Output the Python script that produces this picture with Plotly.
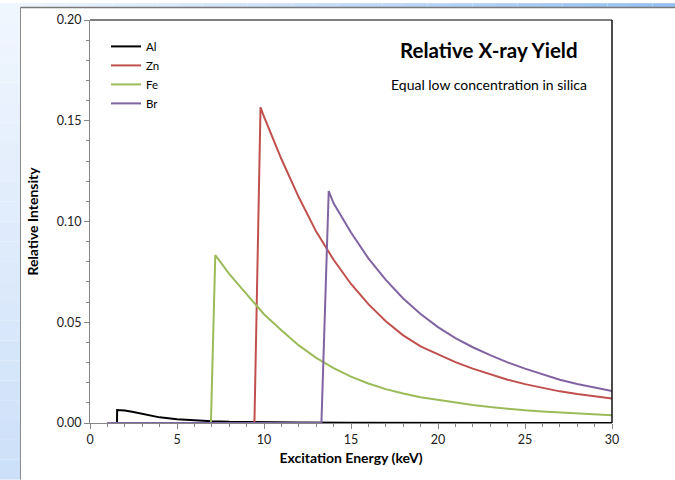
import plotly.graph_objects as go

# ---------------- data ----------------
al_e = [1, 1.55, 1.56, 2, 2.5, 3, 3.5, 4, 5, 6, 7, 8, 10, 12, 15, 20, 25, 30]
al_i = [0, 0, 0.0064, 0.0062, 0.0055, 0.0045, 0.0036, 0.0028, 0.0019, 0.0013,
        0.0009, 0.0006, 0.0003, 0.0002, 0.0001, 0.00005, 0.00002, 0.0]

zn_e = [1, 9.45, 9.8, 10, 11, 12, 13, 14, 15, 16, 17, 18, 19, 20,
        21, 22, 23, 24, 25, 26, 27, 28, 29, 30]
zn_i = [0, 0, 0.1567, 0.152, 0.131, 0.112, 0.095, 0.081, 0.069, 0.059, 0.0505,
        0.0435, 0.038, 0.034, 0.0302, 0.027, 0.0241, 0.0215, 0.0193, 0.0174,
        0.0157, 0.0144, 0.0132, 0.0122]

fe_e = [1, 6.95, 7.2, 8, 9, 10, 11, 12, 13, 14, 15, 16, 17, 18, 19, 20,
        21, 22, 23, 24, 25, 26, 27, 28, 29, 30]
fe_i = [0, 0, 0.0833, 0.074, 0.064, 0.054, 0.046, 0.0385, 0.0323, 0.0272, 0.023,
        0.0196, 0.0168, 0.0146, 0.0128, 0.0114, 0.0101, 0.0089, 0.0079,
        0.0070, 0.0063, 0.0057, 0.0052, 0.0047, 0.0043, 0.0039]

br_e = [1, 13.3, 13.72, 14, 15, 16, 17, 18, 19, 20, 21, 22, 23, 24, 25,
        26, 27, 28, 29, 30]
br_i = [0, 0, 0.1151, 0.109, 0.0945, 0.0817, 0.071, 0.0618, 0.0541, 0.0476, 0.0421,
        0.0376, 0.0337, 0.0301, 0.027, 0.0241, 0.0215, 0.0194, 0.0175, 0.0159]

series = [
    ("Al", al_e, al_i, "#000000"),
    ("Zn", zn_e, zn_i, "#c0504d"),
    ("Fe", fe_e, fe_i, "#9bbb59"),
    ("Br", br_e, br_i, "#8064a2"),
]

x_ticks = [0, 5, 10, 15, 20, 25, 30]
y_ticks = [0.00, 0.05, 0.10, 0.15, 0.20]

FONT = "Lato, Carlito, 'Liberation Sans', sans-serif"

fig = go.Figure()
for name, xe, yi, col in series:
    fig.add_trace(go.Scatter(x=xe, y=yi, name=name, mode="lines",
                             line=dict(color=col, width=2)))

# ---------------- geometry helpers (pixel -> paper) ----------------
W, H = 675, 480
L, R, T, B = 90, 63, 17, 57
pw, ph = W - L - R, H - T - B


def px(x):
    return (x - L) / pw


def py(y):
    return (H - B - y) / ph


def mix(c1, c2, t):
    return "rgb({},{},{})".format(*[round(a + (b - a) * t) for a, b in zip(c1, c2)])


shapes = []
# left strip gradient (top -> bottom)
n = 24
for k in range(n):
    y0 = k * H / n
    y1 = (k + 1) * H / n
    shapes.append(dict(type="rect", xref="paper", yref="paper", layer="below",
                       x0=px(0), x1=px(21), y0=py(y1), y1=py(y0),
                       line=dict(width=0),
                       fillcolor=mix((240, 246, 254), (205, 224, 249), k / (n - 1))))
# top strip gradient (left -> right)
m = 30
for k in range(m):
    x0 = k * W / m
    x1 = (k + 1) * W / m
    shapes.append(dict(type="rect", xref="paper", yref="paper", layer="below",
                       x0=px(x0), x1=px(x1), y0=py(4.5), y1=py(0),
                       line=dict(width=0),
                       fillcolor=mix((240, 246, 254), (150, 192, 240), k / (m - 1))))
# chart box border
shapes.append(dict(type="line", xref="paper", yref="paper", layer="below",
                   x0=px(20.5), x1=px(20.5), y0=py(4.5), y1=py(H),
                   line=dict(color="#8a8a8a", width=1)))
shapes.append(dict(type="line", xref="paper", yref="paper", layer="below",
                   x0=px(20.5), x1=px(W), y0=py(4.5), y1=py(4.5),
                   line=dict(color="#7a7a7a", width=1.5)))
# plot area top/right border
shapes.append(dict(type="line", xref="paper", yref="paper",
                   x0=0, x1=1, y0=1, y1=1, line=dict(color="#555555", width=1.5)))
shapes.append(dict(type="line", xref="paper", yref="paper",
                   x0=1, x1=1, y0=0, y1=1, line=dict(color="#111111", width=1.5)))

fig.update_layout(
    width=W, height=H,
    margin=dict(l=L, r=R, t=T, b=B, pad=0),
    paper_bgcolor="white", plot_bgcolor="white",
    font=dict(family=FONT, size=12, color="#222222"),
    shapes=shapes,
    showlegend=True,
    legend=dict(x=px(106), y=py(29), xanchor="left", yanchor="top",
                bgcolor="rgba(0,0,0,0)", font=dict(size=11.5, color="#000000"),
                tracegroupgap=0, itemwidth=30),
    annotations=[
        dict(text="<b>Relative X-ray Yield</b>", xref="paper", yref="paper",
             x=px(489), y=py(47), xanchor="center", yanchor="middle",
             showarrow=False, font=dict(size=20.5, color="#000000", family=FONT)),
        dict(text="Equal low concentration in silica", xref="paper", yref="paper",
             x=px(489), y=py(82), xanchor="center", yanchor="middle",
             showarrow=False, font=dict(size=14, color="#000000", family=FONT)),
    ],
)

fig.update_xaxes(
    range=[0, 30], tickvals=x_ticks, ticktext=[str(v) for v in x_ticks],
    showgrid=False, zeroline=False,
    showline=True, linecolor="#868686", linewidth=1,
    ticks="outside", ticklen=5, tickcolor="#868686",
    minor=dict(dtick=1, ticks="outside", ticklen=3, tickcolor="#868686", showgrid=False),
    tickfont=dict(size=12.5, color="#222222"),
    title=dict(text="<b>Excitation Energy (keV)</b>", font=dict(size=14, color="#000000"),
               standoff=7),
)
fig.update_yaxes(
    range=[0, 0.2], tickvals=y_ticks, ticktext=["%.2f" % v for v in y_ticks],
    showgrid=False, zeroline=False,
    showline=True, linecolor="#868686", linewidth=1,
    ticks="outside", ticklen=5, tickcolor="#868686",
    minor=dict(dtick=0.01, ticks="outside", ticklen=3, tickcolor="#868686", showgrid=False),
    tickfont=dict(size=12.5, color="#222222"),
    title=dict(text="<b>Relative Intensity</b>", font=dict(size=14, color="#000000"),
               standoff=14),
)

fig.write_html("out.html")
